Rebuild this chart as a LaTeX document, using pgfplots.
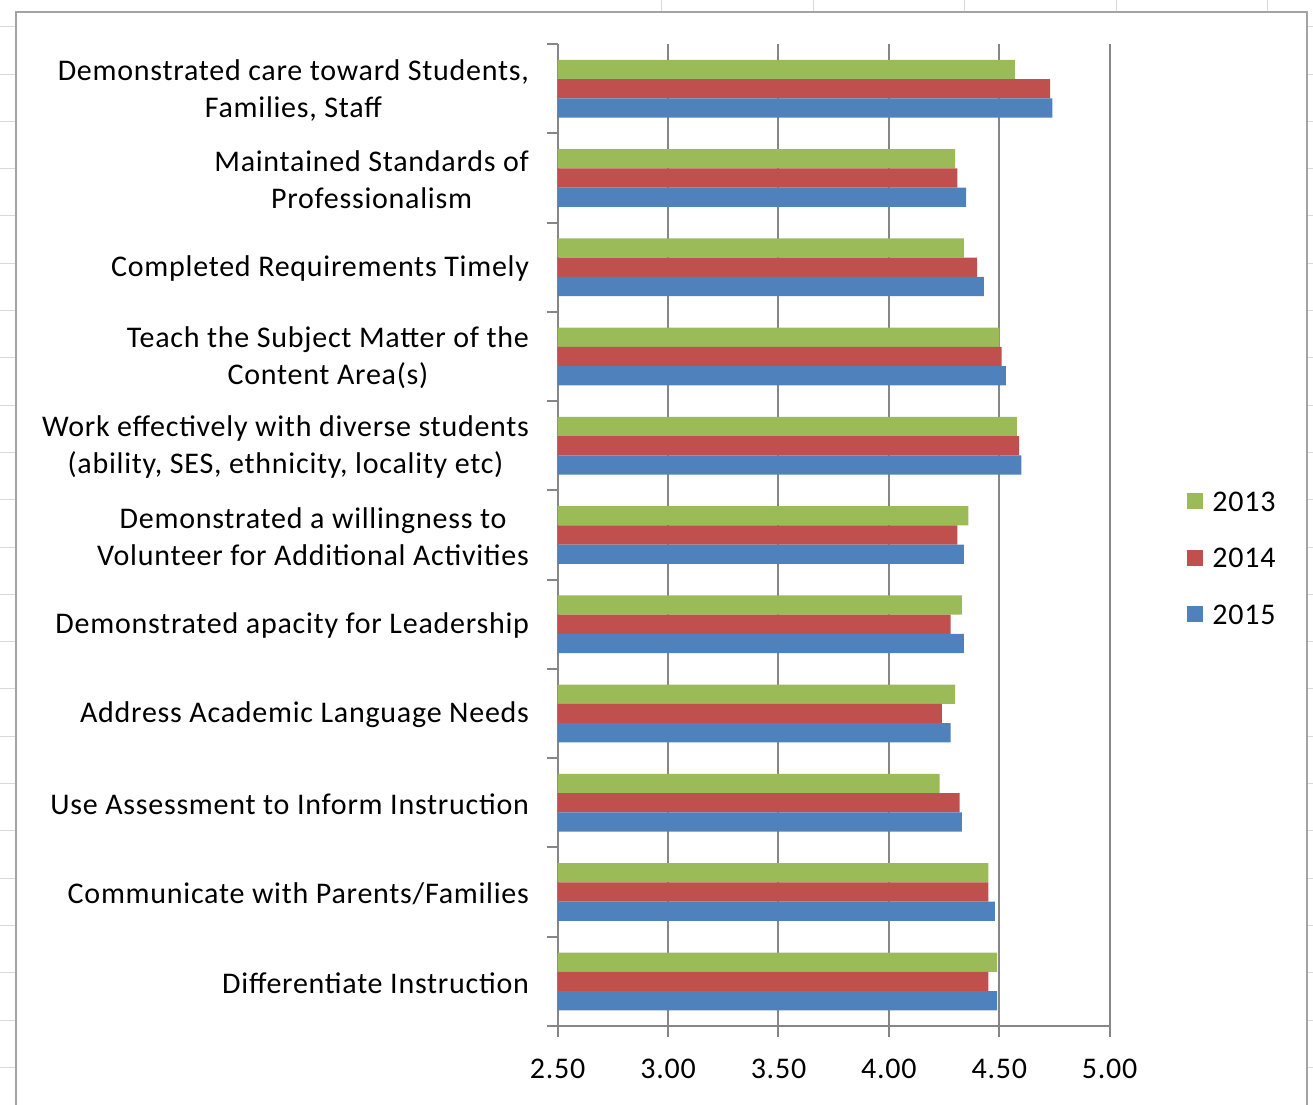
\documentclass[border=0pt]{standalone}
\usepackage{fontspec}
\setmainfont{Carlito}[LetterSpace=2.5]
\usepackage{pgfplots}
\usepackage{pgfplotstable}
\pgfplotsset{compat=1.18}

\definecolor{g13}{HTML}{9BBB59}
\definecolor{r14}{HTML}{C0504D}
\definecolor{b15}{HTML}{4F81BD}
\definecolor{axgray}{HTML}{868686}
\definecolor{framegray}{HTML}{A3A3A3}
\definecolor{cellgray}{HTML}{D9D9D9}

% Mean ratings per item; idx 0 is the bottom row of the chart
\pgfplotstableread{
idx y2013 y2014 y2015
0   4.49  4.45  4.49
1   4.45  4.45  4.48
2   4.23  4.32  4.33
3   4.30  4.24  4.28
4   4.33  4.28  4.34
5   4.36  4.31  4.34
6   4.58  4.59  4.60
7   4.50  4.51  4.53
8   4.34  4.40  4.43
9   4.30  4.31  4.35
10  4.57  4.73  4.74
}\scores

\newcommand{\lblfont}{\fontsize{12}{14.8}\selectfont}
\pgfplotsset{sqleg/.style={legend image code/.code={\fill[##1] (0pt,-2.2pt) rectangle (6.4pt,4.2pt);}}}

\begin{document}
\begin{tikzpicture}
% page: 525.2pt x 442pt, origin at the top-left corner
\path[use as bounding box] (0pt,0pt) rectangle (525.2pt,-442pt);
% worksheet cell borders around the chart object
\foreach \k in {0,...,22}{
  \draw[cellgray, line width=0.4pt] (0pt,{-(10.68+18.92*\k)*1pt}) -- (6.4pt,{-(10.68+18.92*\k)*1pt});
  \draw[cellgray, line width=0.4pt] (522.8pt,{-(10.68+18.92*\k)*1pt}) -- (525.2pt,{-(10.68+18.92*\k)*1pt});
}
\foreach \x in {264.4,325.2,385.6,446.4,506.8}
  \draw[cellgray, line width=0.4pt] (\x pt,0pt) -- (\x pt,-4.8pt);
% chart area border
\draw[framegray, line width=1pt] (6.4pt,-446pt) -- (6.4pt,-4.8pt) -- (522.8pt,-4.8pt) -- (522.8pt,-446pt);

\begin{axis}[
  at={(223.08pt,-410.4pt)}, anchor=south west,
  scale only axis, width=220.8pt, height=392.8pt,
  xbar, bar width=7.7pt,
  xmin=2.5, xmax=5, ymin=-0.5, ymax=10.5,
  axis x line*=bottom, axis y line*=left,
  axis line style={-, draw=axgray, line width=0.8pt},
  xtick={2.5,3,...,5},
  % category boundaries carry the tick marks, no labels
  ytick={-0.5,0.5,...,10.5}, yticklabel={\relax},
  extra y ticks={0,1,...,10},
  extra y tick labels={
    {Differentiate Instruction},
    {Communicate with Parents/Families},
    {Use Assessment to Inform Instruction},
    {Address Academic Language Needs},
    {Demonstrated apacity for Leadership},
    {Demonstrated a willingness to\\Volunteer for Additional Activities},
    {Work effectively with diverse students\\(ability, SES, ethnicity, locality etc)},
    {Teach the Subject Matter of the\\Content Area(s)},
    {Completed Requirements Timely},
    {Maintained Standards of\\Professionalism},
    {Demonstrated care toward Students,\\Families, Staff}},
  extra y tick style={tick style={draw=none}},
  tick align=outside, major tick length=4.2pt,
  tick style={draw=axgray, line width=0.8pt},
  xmajorgrids, major grid style={draw=axgray, line width=0.8pt},
  /pgf/number format/assume math mode=true,
  xticklabel style={/pgf/number format/.cd, fixed, fixed zerofill, precision=2, /tikz/.cd,
    font=\lblfont, anchor=center, inner sep=0pt, yshift=-12.8pt},
  yticklabel style={font=\lblfont, align=center, anchor=east, inner sep=0pt, xshift=-7.1pt, yshift=-0.6pt},
  legend style={draw=none, fill=none, inner sep=0pt, font=\lblfont,
    at={(1.140,0.4745)}, anchor=west, row sep=13.2pt, column sep=3.6pt,
    nodes={inner sep=0pt}},
  legend cell align=left,
]
\addplot[fill=g13, draw=none, bar shift=7.7pt, sqleg] table[x=y2013, y=idx] {\scores};
\addplot[fill=r14, draw=none, bar shift=0pt, sqleg] table[x=y2014, y=idx] {\scores};
\addplot[fill=b15, draw=none, bar shift=-7.7pt, sqleg] table[x=y2015, y=idx] {\scores};
\legend{2013,2014,2015}
\end{axis}
\end{tikzpicture}
\end{document}
